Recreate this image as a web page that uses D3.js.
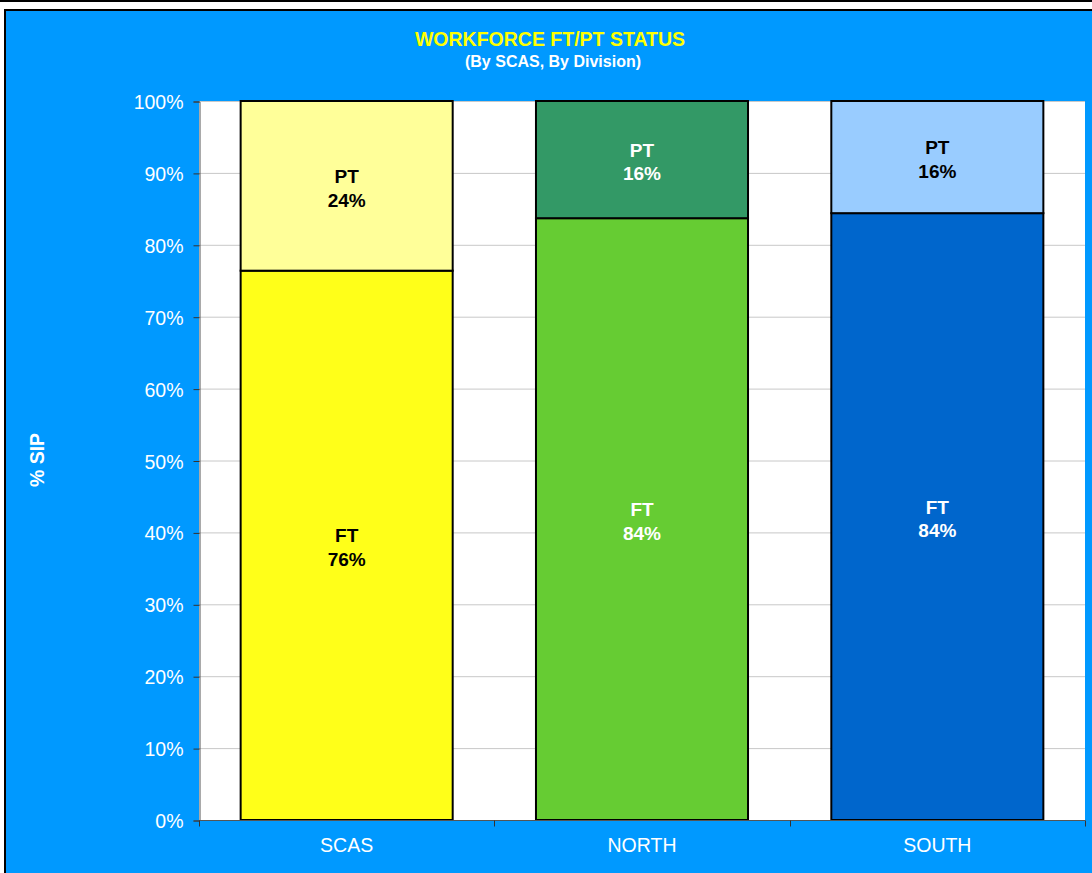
<!DOCTYPE html>
<html>
<head>
<meta charset="utf-8">
<script src="https://cdn.jsdelivr.net/npm/d3@7"></script>
<style>
  html, body { margin: 0; padding: 0; background: #ffffff; }
  svg { display: block; }
  text { font-family: "Liberation Sans", Arial, sans-serif; }
</style>
</head>
<body>
<svg id="chart" width="1092" height="873"></svg>
<script>
// Workforce split by division: full-time vs part-time share (%)
const categories = ["SCAS", "NORTH", "SOUTH"];
const ftValues = [76.4, 83.7, 84.4];
const ptValues = [23.6, 16.3, 15.6];
const segmentNames = ["FT", "PT"];
const yTicks = [0, 10, 20, 30, 40, 50, 60, 70, 80, 90, 100];

const ftColors = ["#FFFF19", "#66CC33", "#0066CC"];
const ptColors = ["#FFFF99", "#339966", "#99CCFF"];
const ftTextColors = ["#000000", "#ffffff", "#ffffff"];
const ptTextColors = ["#000000", "#ffffff", "#000000"];

const svg = d3.select("#chart");

// frame
svg.append("rect").attr("x", 0).attr("y", 0).attr("width", 1092).attr("height", 2).attr("fill", "#000");
svg.append("rect").attr("x", 5).attr("y", 10).attr("width", 1100).attr("height", 880)
  .attr("fill", "#0099FF").attr("stroke", "#000").attr("stroke-width", 2);

const plot = { left: 199, right: 1085, top: 101, bottom: 820 };

// white plot area
svg.append("rect").attr("x", plot.left).attr("y", plot.top)
  .attr("width", plot.right - plot.left).attr("height", plot.bottom - plot.top)
  .attr("fill", "#ffffff");

const x = d3.scaleBand().domain(categories).range([plot.left, plot.right])
  .paddingInner(0.282).paddingOuter(0.141);
const y = d3.scaleLinear().domain([0, 100]).range([plot.bottom, plot.top]);

// gridlines
svg.append("g").selectAll("line").data(yTicks.filter(d => d > 0)).join("line")
  .attr("x1", plot.left).attr("x2", plot.right)
  .attr("y1", d => y(d) + 0.5).attr("y2", d => y(d) + 0.5)
  .attr("stroke", "#C8C8C8").attr("stroke-width", 1);

// stacked bars
const stackData = categories.map((c, i) => ({ cat: c, FT: ftValues[i], PT: ptValues[i], i }));
const series = d3.stack().keys(segmentNames)(stackData);

const barG = svg.append("g");
series.forEach(s => {
  barG.selectAll(null).data(s).join("rect")
    .attr("x", d => x(d.data.cat))
    .attr("width", x.bandwidth())
    .attr("y", d => y(d[1]))
    .attr("height", d => y(d[0]) - y(d[1]))
    .attr("fill", d => s.key === "FT" ? ftColors[d.data.i] : ptColors[d.data.i])
    .attr("stroke", "#000").attr("stroke-width", 2);
});

// segment labels
series.forEach(s => {
  const g = barG.selectAll(null).data(s).join("text")
    .attr("x", d => x(d.data.cat) + x.bandwidth() / 2)
    .attr("y", d => (y(d[0]) + y(d[1])) / 2)
    .attr("text-anchor", "middle")
    .attr("font-weight", "bold")
    .attr("font-size", "19px")
    .attr("fill", d => s.key === "FT" ? ftTextColors[d.data.i] : ptTextColors[d.data.i]);
  g.append("tspan").attr("x", d => x(d.data.cat) + x.bandwidth() / 2).attr("dy", "-0.15em").text(s.key);
  g.append("tspan").attr("x", d => x(d.data.cat) + x.bandwidth() / 2).attr("dy", "1.25em")
    .text(d => Math.round(d[1] - d[0]) + "%");
});

// y axis
const yAxis = d3.axisLeft(y).tickValues(yTicks).tickFormat(d => d + "%").tickSize(6).tickPadding(10);
const yg = svg.append("g").attr("transform", `translate(${plot.left + 0.5},0.5)`).call(yAxis);
yg.select(".domain").attr("stroke", "#555");
yg.selectAll(".tick line").attr("stroke", "#333");
yg.selectAll(".tick text").attr("fill", "#ffffff").attr("font-size", "19.5px")
  .attr("font-family", "'Liberation Sans', Arial, sans-serif").attr("dy", "0.36em");

// x axis with ticks at category boundaries
const xg = svg.append("g").attr("transform", `translate(0,${plot.bottom + 0.5})`);
xg.append("line").attr("x1", plot.left).attr("x2", plot.right).attr("stroke", "#555");
const step = x.step();
const boundaries = d3.range(categories.length + 1).map(k => x(categories[0]) - x.paddingOuter() * step + k * step);
xg.selectAll(".bt").data(boundaries).join("line")
  .attr("x1", d => Math.round(d) + 0.5).attr("x2", d => Math.round(d) + 0.5)
  .attr("y1", 0).attr("y2", 6).attr("stroke", "#333");
xg.selectAll(".cl").data(categories).join("text")
  .attr("x", d => x(d) + x.bandwidth() / 2).attr("y", 31)
  .attr("text-anchor", "middle").attr("fill", "#ffffff").attr("font-size", "19.5px")
  .text(d => d);

// titles
svg.append("text").attr("x", 550).attr("y", 46).attr("text-anchor", "middle")
  .attr("fill", "#FFFF00").attr("font-weight", "bold").attr("font-size", "19.5px")
  .text("WORKFORCE FT/PT STATUS");
svg.append("text").attr("x", 553).attr("y", 66.5).attr("text-anchor", "middle")
  .attr("fill", "#ffffff").attr("font-weight", "bold").attr("font-size", "16px")
  .text("(By SCAS, By Division)");

// y axis title
svg.append("text").attr("transform", "translate(44,460) rotate(-90)")
  .attr("text-anchor", "middle").attr("fill", "#ffffff").attr("font-weight", "bold")
  .attr("font-size", "19.5px").text("% SIP");
</script>
</body>
</html>
